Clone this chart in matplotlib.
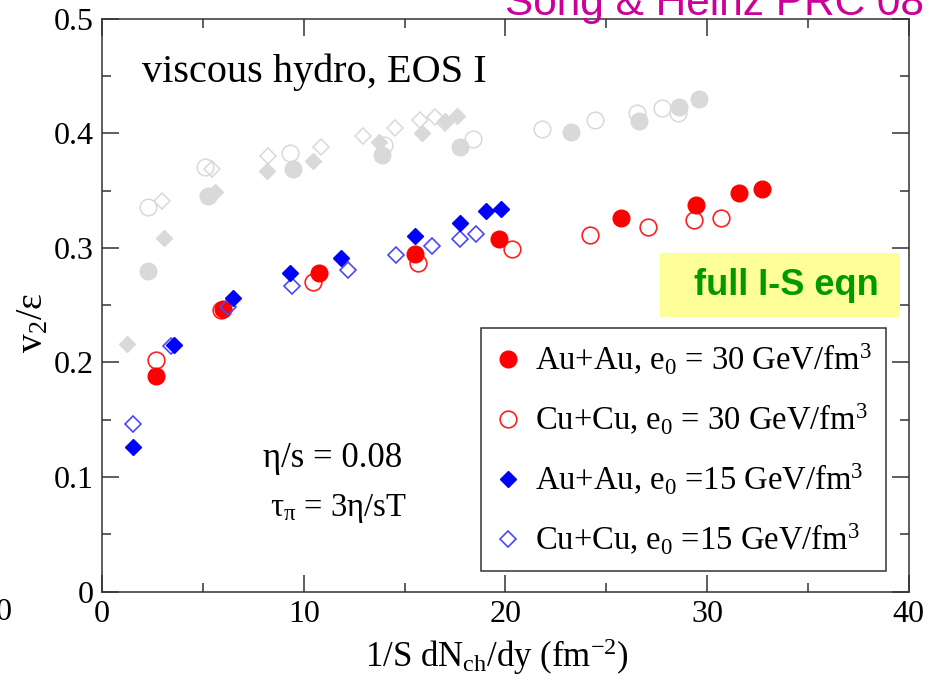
import matplotlib
matplotlib.use("Agg")
import matplotlib.pyplot as plt
from matplotlib.lines import Line2D
from matplotlib.patches import Rectangle

plt.rcParams["font.family"] = ["Liberation Serif", "DejaVu Serif"]
plt.rcParams["mathtext.default"] = "regular"

# viscous hydro, full I-S equations
au30_x = [2.68, 6.01, 10.75, 15.5, 19.69, 25.72, 29.43, 31.6, 32.74]
au30_y = [0.188, 0.247, 0.278, 0.295, 0.308, 0.326, 0.337, 0.348, 0.351]
cu30_x = [2.68, 5.88, 10.47, 15.68, 20.35, 24.18, 27.07, 29.37, 30.67]
cu30_y = [0.202, 0.246, 0.270, 0.287, 0.299, 0.311, 0.318, 0.324, 0.326]
au15_x = [1.52, 3.57, 6.48, 9.32, 11.83, 15.51, 17.77, 19.06, 19.8]
au15_y = [0.126, 0.215, 0.256, 0.278, 0.291, 0.310, 0.322, 0.332, 0.334]
cu15_x = [1.52, 3.4, 6.26, 9.40, 12.2, 14.57, 16.34, 17.74, 18.53]
cu15_y = [0.146, 0.214, 0.248, 0.267, 0.281, 0.294, 0.302, 0.308, 0.312]

# ideal hydro reference (grey)
id_au30_x = [2.26, 5.27, 9.45, 13.9, 17.74, 23.27, 26.63, 28.6, 29.6]
id_au30_y = [0.280, 0.345, 0.369, 0.381, 0.388, 0.401, 0.411, 0.423, 0.430]
id_cu30_x = [2.26, 5.1, 9.32, 13.97, 18.37, 21.82, 24.46, 26.54, 27.77, 28.56]
id_cu30_y = [0.336, 0.371, 0.383, 0.390, 0.395, 0.404, 0.412, 0.418, 0.422, 0.418]
id_au15_x = [1.25, 3.07, 5.6, 8.19, 10.47, 13.74, 15.84, 17.0, 17.6]
id_au15_y = [0.216, 0.309, 0.349, 0.367, 0.376, 0.392, 0.400, 0.411, 0.415]
id_cu15_x = [2.99, 5.43, 8.24, 10.84, 12.92, 14.52, 15.76, 16.5, 17.0]
id_cu15_y = [0.341, 0.369, 0.380, 0.388, 0.398, 0.405, 0.412, 0.414, 0.409]

xticks = [0, 10, 20, 30, 40]
yticks = [0, 0.1, 0.2, 0.3, 0.4, 0.5]
yticklabels = ["0", "0.1", "0.2", "0.3", "0.4", "0.5"]

labels = [r"Au+Au, e$_0$ = 30 GeV/fm$^3$",
          r"Cu+Cu, e$_0$ = 30 GeV/fm$^3$",
          r"Au+Au, e$_0$ =15 GeV/fm$^3$",
          r"Cu+Cu, e$_0$ =15 GeV/fm$^3$"]

fig = plt.figure(figsize=(9.36, 6.82), dpi=100)
ax = fig.add_axes([0.109, 0.1324, 0.862, 0.8402])

grey = "#d9d9d9"
ms_c = 12
ms_d = 8.5
ax.plot(id_cu30_x, id_cu30_y, "o", ms=ms_c, mfc="none", mec=grey, mew=1.1, ls="none")
ax.plot(id_au30_x, id_au30_y, "o", ms=ms_c, color=grey, mec=grey, ls="none")
ax.plot(id_cu15_x, id_cu15_y, "D", ms=ms_d, mfc="none", mec=grey, mew=1.1, ls="none")
ax.plot(id_au15_x, id_au15_y, "D", ms=ms_d, color=grey, mec=grey, ls="none")

ax.plot(cu30_x, cu30_y, "o", ms=ms_c, mfc="none", mec="#ff2020", mew=1.2, ls="none")
ax.plot(au30_x, au30_y, "o", ms=ms_c, color="#ff0000", mec="#ff0000", ls="none")
ax.plot(cu15_x, cu15_y, "D", ms=ms_d, mfc="none", mec="#4848ff", mew=1.2, ls="none")
ax.plot(au15_x, au15_y, "D", ms=ms_d, color="#0000ff", mec="#0000ff", ls="none")

ax.set_xlim(0, 40)
ax.set_ylim(0, 0.5)
ax.set_xticks(xticks)
ax.set_xticklabels([str(t) for t in xticks])
ax.set_xticks([5, 15, 25, 35], minor=True)
ax.set_yticks(yticks)
ax.set_yticklabels(yticklabels)
ax.set_yticks([0.05, 0.15, 0.25, 0.35, 0.45], minor=True)
ax.tick_params(which="both", direction="in", top=True, right=True,
               width=1.1, color="#333333", labelsize=23)
ax.tick_params(which="major", length=12)
ax.tick_params(which="minor", length=6.5)
ax.tick_params(axis="x", pad=6)
ax.tick_params(axis="y", pad=6)
for s in ax.spines.values():
    s.set_linewidth(1.1)
    s.set_color("#333333")

ax.set_xlabel(r"1/S dN$_{ch}$/dy (fm$^{-2}$)", fontsize=25)
ax.xaxis.label.set_va("baseline")
ax.xaxis.set_label_coords(0.49, -0.131)
ax.set_ylabel(r"v$_2$/ε", fontsize=27)
ax.yaxis.set_label_coords(-0.064, 0.47)

ax.text(0.05, 0.8895, "viscous hydro, EOS I", transform=ax.transAxes, fontsize=29,
        va="baseline")
ax.text(0.1995, 0.233, "η/s = 0.08", transform=ax.transAxes, fontsize=25, va="center")
ax.text(0.208, 0.146, r"τ$_π$ = 3η/sT", transform=ax.transAxes, fontsize=23.5, va="center")

# yellow box
ax.add_patch(Rectangle((0.6914, 0.4794), 0.2974, 0.1116, transform=ax.transAxes,
                       facecolor="#ffff99", edgecolor="none", zorder=3))
ax.text(0.8476, 0.535, "full I-S eqn", transform=ax.transAxes, fontsize=26,
        fontweight="bold", family="Liberation Sans", color="#009900",
        ha="center", va="center", zorder=4)

handles = [
    Line2D([], [], marker="o", ls="none", ms=ms_c, color="#ff0000"),
    Line2D([], [], marker="o", ls="none", ms=ms_c, mfc="none", mec="#ff2020", mew=1.2),
    Line2D([], [], marker="D", ls="none", ms=ms_d, color="#0000ff"),
    Line2D([], [], marker="D", ls="none", ms=ms_d, mfc="none", mec="#4848ff", mew=1.2),
]
leg = ax.legend(handles, labels, loc="lower left", bbox_to_anchor=(0.4697, 0.036),
                fontsize=23.5, frameon=True, fancybox=False, framealpha=1,
                edgecolor="#333333", handlelength=0.8, handletextpad=0.45,
                labelspacing=0.76, borderpad=0.42, borderaxespad=0)
leg.get_frame().set_linewidth(1.1)
leg.set_zorder(5)

fig.text(505 / 936, 1 - 15 / 682, "Song & Heinz PRC 08", family="Liberation Sans",
         fontsize=30.5, color="#cc0099", va="baseline")
fig.text(4 / 936, 1 - 612 / 682, "0", fontsize=23, ha="center", va="center")

fig.savefig("out.png", dpi=100)
